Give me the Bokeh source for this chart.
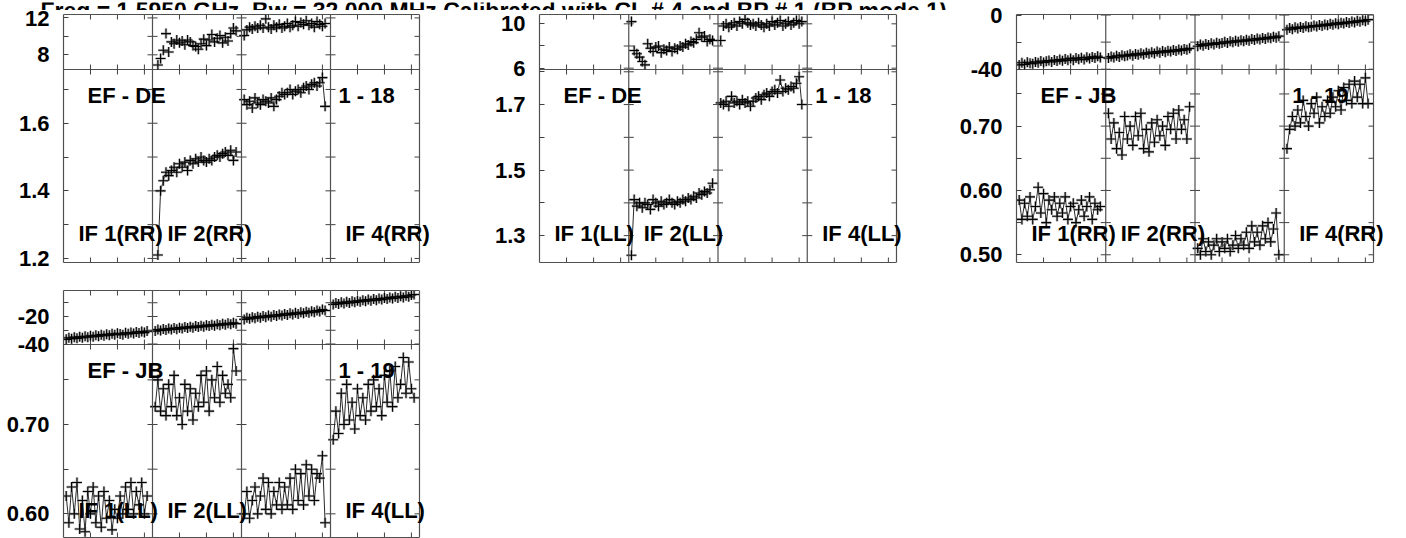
import numpy as np
from bokeh.plotting import figure
from bokeh.models import LinearAxis, FixedTicker, Span, Label, Range1d, NumeralTickFormatter
from bokeh.layouts import row, column
from bokeh.embed import file_html
from bokeh.resources import INLINE

nan = float("nan")

# ---------------- data ----------------
CHANNELS = list(range(1, 32))          # 31 channels per IF
N_IF = 4
TITLE = "Freq = 1.5950 GHz, Bw = 32.000 MHz  Calibrated with CL # 4 and BP # 1 (BP mode 1)"
BASELINES = ["EF - DE", "EF - DE", "EF - JB", "EF - JB"]
TIMERANGES = ["1 - 18", "1 - 18", "1 - 19", "1 - 19"]
POLS = ["RR", "LL", "RR", "LL"]
IF_LABELS_SHOWN = [1, 2, 4]

# EF - DE, RR
DE_RR_PHASE = [
    [],
    [nan, 6.9, 7.6, 8.5, 10.3, 8.3, 9.4, 9.2, 9.6, 9.3, 9.5, 9.1, 9.6, 9.4, 9.0, 8.9,
     8.6, 9.2, 9.7, 9.0, 9.6, 10.2, 9.4, 9.8, 10.1, 9.3, 9.9, 9.5, 10.3, 10.9, 10.6],
    [10.1, 10.7, 11.0, 10.8, 11.1, 10.9, 11.2, 10.9, 11.9, 11.0, 10.8, 11.2, 11.0, 11.3, 10.9, 11.1,
     11.4, 11.0, 11.2, 11.6, 11.1, 11.5, 11.3, 11.7, 11.2, 11.4, 11.0, 11.6, 11.3, 11.1, 11.4],
    [],
]
DE_RR_AMP = [
    [],
    [nan, 1.21, 1.40, 1.43, 1.455, 1.445, 1.46, 1.47, 1.455, 1.48, 1.47, 1.485, 1.46, 1.49, 1.48, 1.495,
     1.485, 1.50, 1.49, 1.485, 1.495, 1.49, 1.50, 1.505, 1.50, 1.51, 1.515, 1.505, 1.52, 1.49, 1.515],
    [1.67, 1.655, 1.665, 1.645, 1.675, 1.66, 1.655, 1.67, 1.665, 1.66, 1.675, 1.65, 1.67, 1.68, 1.69, 1.685,
     1.69, 1.70, 1.685, 1.695, 1.70, 1.69, 1.705, 1.71, 1.70, 1.715, 1.72, 1.71, 1.72, 1.735, 1.65],
    [],
]
# EF - DE, LL
DE_LL_PHASE = [
    [],
    [10.2, 7.6, 7.3, 7.0, 6.6, 6.3, 8.2, 7.8, 7.5, 7.9, 8.0, 7.4, 7.7, 7.6, 7.9, 7.5,
     7.8, 7.7, 8.0, 7.9, 8.2, 8.1, 8.4, 8.3, 8.6, 9.2, 8.8, 8.9, 8.4, 8.6, 8.5],
    [8.5, 9.8, 10.0, 9.7, 9.9, 10.1, 9.8, 10.2, 10.0, 10.4, 10.1, 9.9, 10.0, 9.8, 10.1, 9.9,
     9.7, 10.0, 9.8, 10.2, 9.9, 10.1, 10.3, 9.8, 10.0, 10.2, 9.9, 10.1, 10.3, 10.0, 10.2],
    [],
]
DE_LL_AMP = [
    [],
    [1.24, 1.41, 1.39, 1.40, 1.385, 1.40, 1.395, 1.38, 1.41, 1.40, 1.39, 1.405, 1.395, 1.40, 1.41, 1.40,
     1.395, 1.405, 1.40, 1.41, 1.405, 1.415, 1.41, 1.42, 1.415, 1.43, 1.425, 1.435, 1.43, 1.44, 1.46],
    [1.705, 1.70, 1.71, 1.695, 1.725, 1.705, 1.71, 1.70, 1.715, 1.705, 1.71, 1.695, 1.71, 1.72, 1.725, 1.715,
     1.73, 1.735, 1.725, 1.74, 1.745, 1.735, 1.775, 1.74, 1.75, 1.745, 1.755, 1.75, 1.765, 1.785, 1.70],
    [],
]
# EF - JB, RR
JB_RR_PHASE = [
    [-36.8, -35.2, -36.5, -34.9, -35.6, -36.0, -34.6, -35.3, -33.9, -35.0, -34.1, -33.6, -34.7, -33.2, -34.0, -32.9,
     -33.8, -32.5, -33.3, -32.0, -33.4, -31.8, -32.6, -31.5, -32.9, -31.2, -32.0, -30.9, -31.8, -30.4, -31.3],
    [-31.8, -30.6, -31.4, -30.1, -31.0, -29.6, -30.4, -29.9, -29.0, -30.0, -28.7, -29.4, -28.2, -29.1, -27.9, -28.5,
     -27.4, -28.3, -27.0, -27.8, -26.6, -27.5, -26.3, -27.0, -25.8, -26.6, -25.4, -26.2, -25.0, -25.7, -24.6],
    [-23.0, -21.8, -22.6, -21.3, -22.1, -20.9, -21.7, -20.5, -21.2, -20.7, -19.8, -20.6, -19.4, -20.1, -19.0, -19.7,
     -18.6, -19.3, -18.2, -18.9, -17.7, -18.5, -17.3, -18.0, -16.9, -17.6, -16.5, -17.1, -16.0, -16.7, -15.6],
    [-10.9, -9.6, -10.4, -9.1, -9.9, -8.8, -9.5, -8.3, -9.0, -8.6, -7.8, -8.5, -7.3, -8.0, -6.9, -7.6,
     -6.5, -7.2, -6.0, -6.8, -5.6, -6.3, -5.2, -5.9, -4.8, -5.5, -4.3, -5.0, -3.9, -4.6, -3.4],
]
JB_RR_AMP = [
    [0.585, 0.555, 0.58, 0.56, 0.59, 0.555, 0.575, 0.605, 0.565, 0.595, 0.55, 0.585, 0.57, 0.59, 0.56, 0.58,
     0.565, 0.59, 0.555, 0.575, 0.58, 0.55, 0.57, 0.585, 0.56, 0.575, 0.59, 0.555, 0.58, 0.57, 0.575],
    [0.72, 0.68, 0.705, 0.665, 0.69, 0.655, 0.715, 0.68, 0.70, 0.67, 0.715, 0.685, 0.72, 0.665, 0.695, 0.66,
     0.705, 0.675, 0.71, 0.685, 0.70, 0.67, 0.715, 0.695, 0.72, 0.68, 0.725, 0.695, 0.71, 0.68, 0.73],
    [0.51, 0.50, 0.525, 0.505, 0.52, 0.50, 0.515, 0.525, 0.505, 0.52, 0.51, 0.525, 0.505, 0.515, 0.53, 0.51,
     0.525, 0.515, 0.535, 0.51, 0.545, 0.52, 0.535, 0.515, 0.545, 0.525, 0.55, 0.52, 0.54, 0.565, 0.50],
    [0.665, 0.695, 0.715, 0.70, 0.725, 0.705, 0.74, 0.715, 0.70, 0.735, 0.72, 0.745, 0.705, 0.73, 0.715, 0.74,
     0.72, 0.745, 0.73, 0.755, 0.725, 0.76, 0.74, 0.765, 0.735, 0.77, 0.745, 0.765, 0.735, 0.775, 0.735],
]
# EF - JB, LL
JB_LL_PHASE = [
    [-36.6, -35.5, -36.2, -35.0, -35.9, -34.8, -35.4, -34.4, -35.1, -34.0, -34.7, -33.6, -34.3, -33.2, -34.0, -32.9,
     -33.6, -32.5, -33.2, -32.2, -32.8, -33.3, -31.9, -32.6, -31.6, -32.3, -31.2, -32.0, -30.9, -31.7, -30.6],
    [-30.6, -29.5, -30.2, -29.1, -29.9, -28.8, -29.5, -28.4, -29.2, -28.1, -28.8, -27.7, -28.4, -27.4, -28.1, -27.0,
     -27.7, -26.7, -27.4, -26.3, -27.0, -26.0, -26.7, -25.6, -26.3, -25.3, -26.0, -24.9, -25.6, -24.6, -25.2],
    [-22.1, -20.9, -21.7, -20.5, -21.3, -20.1, -20.9, -19.7, -20.5, -19.3, -20.1, -18.9, -19.7, -18.5, -19.3, -18.1,
     -18.9, -17.7, -18.5, -17.3, -18.1, -16.9, -17.7, -16.5, -17.3, -16.1, -16.9, -15.6, -16.4, -15.0, -15.6],
    [-11.3, -10.1, -10.9, -9.7, -10.5, -9.3, -10.1, -8.9, -9.7, -8.5, -9.3, -8.1, -8.9, -7.7, -8.5, -7.3,
     -8.1, -6.9, -7.7, -6.5, -7.3, -6.1, -6.9, -5.7, -6.5, -5.3, -6.1, -4.9, -5.7, -4.4, -4.0],
]
JB_LL_AMP = [
    [0.62, 0.59, 0.63, 0.60, 0.635, 0.583, 0.615, 0.58, 0.625, 0.60, 0.63, 0.59, 0.62, 0.585, 0.625, 0.595,
     0.615, 0.582, 0.605, 0.595, 0.62, 0.60, 0.63, 0.605, 0.635, 0.60, 0.625, 0.61, 0.635, 0.60, 0.62],
    [0.72, 0.75, 0.715, 0.74, 0.71, 0.745, 0.72, 0.755, 0.71, 0.73, 0.70, 0.745, 0.715, 0.74, 0.705, 0.735,
     0.72, 0.755, 0.725, 0.76, 0.715, 0.75, 0.73, 0.765, 0.725, 0.755, 0.735, 0.745, 0.73, 0.785, 0.76],
    [0.60, 0.625, 0.595, 0.615, 0.63, 0.60, 0.62, 0.64, 0.605, 0.635, 0.60, 0.625, 0.61, 0.635, 0.605, 0.63,
     0.61, 0.64, 0.605, 0.65, 0.615, 0.645, 0.61, 0.655, 0.62, 0.65, 0.615, 0.645, 0.64, 0.665, 0.59],
    [0.683, 0.715, 0.69, 0.735, 0.70, 0.745, 0.705, 0.725, 0.695, 0.74, 0.71, 0.73, 0.705, 0.745, 0.715, 0.75,
     0.72, 0.74, 0.71, 0.755, 0.725, 0.76, 0.72, 0.765, 0.73, 0.745, 0.775, 0.735, 0.77, 0.74, 0.73],
]

GROUP_PHASE = [DE_RR_PHASE, DE_LL_PHASE, JB_RR_PHASE, JB_LL_PHASE]
GROUP_AMP = [DE_RR_AMP, DE_LL_AMP, JB_RR_AMP, JB_LL_AMP]

# axis limits and ticks (per group)
PHASE_RANGE = [(6.41, 12.37), (5.88, 10.84), (-40.2, 0.4), (-40.36, -1.1)]
AMP_RANGE = [(1.188, 1.759), (1.218, 1.807), (0.488, 0.788), (0.5735, 0.7896)]
PHASE_TICKS = [[8, 12], [6, 10], [-40, 0], [-40, -20]]
PHASE_MINOR = [[10], [8], [-20], [-30, -10]]
AMP_TICKS = [[1.2, 1.4, 1.6], [1.3, 1.5, 1.7], [0.5, 0.6, 0.7], [0.6, 0.7]]
AMP_MINOR = [[1.3, 1.5, 1.7], [1.4, 1.6, 1.8], [0.55, 0.65, 0.75], [0.65, 0.75]]
AMP_FMT = ["0.0", "0.0", "0.00", "0.00"]
X_TICKS_IN_IF = [10, 20, 30]

# ---------------- style / layout ----------------
IF_SPAN = 33
NX = IF_SPAN * N_IF
FONT = "Liberation Sans"
FS = "22px"
FRAME = "#505050"
TICK = "#404040"
TICK_LEN = 5
EXT = 20            # frame room right of each box: the IF 4 labels overflow there
STANDOFF = 14
MARK = 10
TITLE_H = 10        # height of the strip holding the (top-clipped) title

# page geometry of each group
GEOM = [
    dict(fl=63, fw=356, bl=63, br=52, top=14, ph=55, ah=193, bt=14 - TITLE_H, bb=8, name_y=95, iflab_y=233),
    dict(fl=539, fw=357, bl=68, br=60, top=14, ph=55, ah=193, bt=14 - TITLE_H, bb=8, name_y=95, iflab_y=233),
    dict(fl=1016, fw=357, bl=60, br=33, top=14, ph=55, ah=193, bt=14, bb=8, name_y=95, iflab_y=233),
    dict(fl=63, fw=356, bl=63, br=52, top=290, ph=54, ah=193, bt=20, bb=1, name_y=370, iflab_y=510),
]


def lab(p, x, y, text, baseline="middle", size=FS):
    p.add_layout(Label(x=x, y=y, text=text, text_font=FONT, text_font_style="bold",
                       text_font_size=size, text_color="black", text_align="left",
                       text_baseline=baseline))


def draw_points(p, xs, ys, with_line, **kw):
    xs = np.array(xs, dtype=float)
    ys = np.array(ys, dtype=float)
    if with_line:
        p.line(xs, ys, line_color="#2a2a2a", line_width=1, **kw)
    p.scatter(xs, ys, marker="cross", size=MARK, line_color="#888888", line_width=2.6, line_alpha=0.6, **kw)
    p.scatter(xs, ys, marker="cross", size=MARK, line_color="black", line_width=1.1, **kw)


def build_group(g):
    G = GEOM[g]
    p0, p1 = PHASE_RANGE[g]
    a0, a1 = AMP_RANGE[g]
    ph, ah, fw = G["ph"], G["ah"], G["fw"]
    ppx = NX / fw
    # amplitude scale occupies the lower box, phase scale the upper box of one frame
    amp_top = a1 + ph * (a1 - a0) / ah
    phase_bottom = p0 - ah * (p1 - p0) / ph
    p = figure(x_range=Range1d(0, NX + EXT * ppx), y_range=Range1d(a0, amp_top),
               frame_width=fw + EXT, frame_height=ph + ah,
               min_border_left=G["bl"], min_border_right=G["br"] - EXT,
               min_border_top=G["bt"], min_border_bottom=G["bb"],
               x_axis_location=None, y_axis_location=None,
               output_backend="svg", toolbar_location=None)
    p.extra_y_ranges = {"phase": Range1d(phase_bottom, p1)}
    p.xgrid.visible = False
    p.ygrid.visible = False
    p.outline_line_color = None
    p.background_fill_color = "white"
    p.border_fill_color = "white"

    def phase_pos(v):  # phase value -> position on the shared left axis
        return a1 + (v - p0) / (p1 - p0) * (amp_top - a1)

    maj = list(AMP_TICKS[g]) + [phase_pos(v) for v in PHASE_TICKS[g]]
    mnr = list(AMP_MINOR[g]) + [phase_pos(v) for v in PHASE_MINOR[g]]
    overrides = {phase_pos(v): f"{v:g}" for v in PHASE_TICKS[g]}
    left = LinearAxis(ticker=FixedTicker(ticks=maj, minor_ticks=mnr),
                      formatter=NumeralTickFormatter(format=AMP_FMT[g]),
                      major_label_overrides=overrides,
                      major_label_standoff=STANDOFF, major_label_text_font=FONT,
                      major_label_text_font_style="bold", major_label_text_font_size=FS,
                      major_label_text_color="black",
                      major_tick_in=TICK_LEN, major_tick_out=0, minor_tick_in=TICK_LEN, minor_tick_out=0,
                      major_tick_line_color=TICK, minor_tick_line_color=TICK,
                      axis_line_color=FRAME, axis_line_width=1.2)
    p.add_layout(left, "left")
    for loc in ("above", "below"):
        p.add_layout(LinearAxis(ticker=FixedTicker(ticks=[]), bounds=(0, NX),
                                axis_line_color=FRAME, axis_line_width=1.2,
                                major_tick_in=0, major_tick_out=0,
                                minor_tick_in=0, minor_tick_out=0, major_label_standoff=0), loc)
    # right edge and IF dividers
    for k in range(1, N_IF + 1):
        p.add_layout(Span(location=k * IF_SPAN, dimension="height", line_color=FRAME, line_width=1.2))
    # phase / amplitude divider
    p.segment(x0=[0], y0=[a1], x1=[NX], y1=[a1], line_color=FRAME, line_width=1.2)

    # tick marks: crossing ticks on the IF dividers, inward ticks on the right edge
    for ticks, rng in ((list(AMP_TICKS[g]) + list(AMP_MINOR[g]), "default"),
                       (list(PHASE_TICKS[g]) + list(PHASE_MINOR[g]), "phase")):
        dx = [k * IF_SPAN for k in range(1, N_IF) for _ in ticks]
        dy = [v for k in range(1, N_IF) for v in ticks]
        p.scatter(dx, dy, marker="dash", size=2 * TICK_LEN, line_color=TICK, line_width=1, y_range_name=rng)
        p.ray(x=[NX] * len(ticks), y=ticks, length=TICK_LEN, length_units="screen",
              angle=np.pi, line_color=TICK, line_width=1, y_range_name=rng)
    xt = [k * IF_SPAN + t for k in range(N_IF) for t in X_TICKS_IN_IF]
    n = len(xt)
    for yv, ang, rng in ((p1, -np.pi / 2, "phase"), (p0, np.pi / 2, "phase"),
                         (a1, -np.pi / 2, "default"), (a0, np.pi / 2, "default")):
        p.ray(x=xt, y=[yv] * n, length=TICK_LEN, length_units="screen", angle=ang,
              line_color=TICK, line_width=1, y_range_name=rng)

    # data
    for k in range(N_IF):
        xs = [c + IF_SPAN * k for c in CHANNELS]
        phs, am = GROUP_PHASE[g][k], GROUP_AMP[g][k]
        if phs:
            draw_points(p, xs, phs, False, y_range_name="phase")
        if am:
            draw_points(p, xs, am, True)

    # annotations placed from page-pixel positions
    def xd(px):
        return (px - G["fl"]) * ppx
    amp_frame_top = G["top"] + ph

    def yd(py):
        return a1 - (py - amp_frame_top) / ah * (a1 - a0)

    cell = fw / N_IF
    lab(p, xd(G["fl"] + 24), yd(G["name_y"]), BASELINES[g])
    lab(p, xd(G["fl"] + 3 * cell + 8), yd(G["name_y"]), TIMERANGES[g])
    for m in IF_LABELS_SHOWN:
        lab(p, xd(G["fl"] + (m - 1) * cell + 15), yd(G["iflab_y"]), f"IF {m}({POLS[g]})")
    return p


figs = [build_group(g) for g in range(4)]

# title strip over the first two groups: only the lower part of the title shows, as in the reference
TW = 956
tfig = figure(x_range=Range1d(0, TW), y_range=Range1d(0, TITLE_H), frame_width=TW, frame_height=TITLE_H,
              min_border=0, x_axis_location=None, y_axis_location=None,
              output_backend="svg", toolbar_location=None)
tfig.xgrid.visible = False
tfig.ygrid.visible = False
tfig.outline_line_color = None
tfig.border_fill_color = "white"
lab(tfig, 40, 1.5, TITLE, baseline="alphabetic", size="23px")

layout = column(row(column(tfig, row(figs[0], figs[1])), figs[2]), figs[3])

open("out.html", "w").write(file_html(layout, INLINE))
